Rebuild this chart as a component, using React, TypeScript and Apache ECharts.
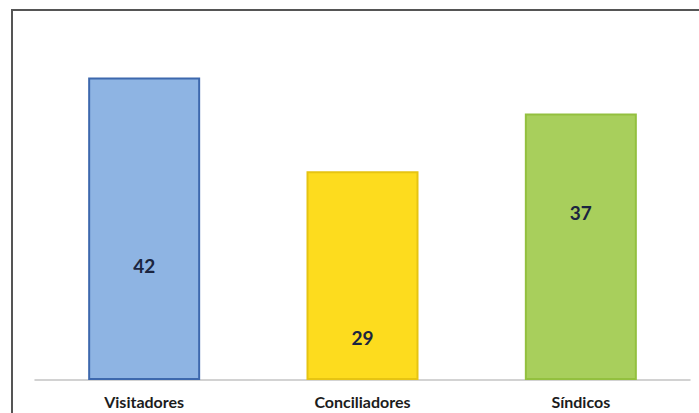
import React, { useEffect, useRef } from "react";
import * as echarts from "echarts";

const categories = ["Visitadores", "Conciliadores", "Síndicos"];
const values = [42, 29, 37];

const fills = ["#8eb4e3", "#fddc1e", "#a8cf5c"];
const borders = ["#3d68ad", "#e6c412", "#93c03f"];
const labelTops = [188, 166, 99];

export default function App() {
  const ref = useRef<HTMLDivElement>(null);
  useEffect(() => {
    if (!ref.current) return;
    const chart = echarts.init(ref.current, undefined, { renderer: "svg" });
    chart.setOption({
      animation: false,
      backgroundColor: "#ffffff",
      grid: { left: 35, right: 9, top: 20, bottom: 33 },
      xAxis: {
        type: "category",
        data: categories,
        axisLine: { show: true, lineStyle: { color: "#c4c4c4", width: 1.5 } },
        axisTick: { show: false },
        axisLabel: {
          margin: 13,
          fontFamily: "Lato",
          fontWeight: "bold",
          fontSize: 16,
          color: "#1c1c1c",
        },
      },
      yAxis: {
        type: "value",
        min: 0,
        max: 50,
        show: false,
        splitLine: { show: false },
      },
      graphic: [
        {
          type: "rect",
          shape: { x: 12, y: 10, width: 720, height: 440 },
          style: { fill: "none", stroke: "#555555", lineWidth: 2 },
          z: 100,
        },
      ],
      series: [
        {
          type: "bar",
          barWidth: 112,
          data: values.map((v, i) => ({
            value: v,
            itemStyle: { color: fills[i], borderColor: borders[i], borderWidth: 2 },
            label: {
              show: true,
              position: ["50%", labelTops[i]],
              align: "center",
              verticalAlign: "middle",
              fontFamily: "Lato",
              fontWeight: "bold",
              fontSize: 19,
              color: "#1b2540",
            },
          })),
        },
      ],
    });
    return () => chart.dispose();
  }, []);
  return <div ref={ref} style={{ width: 699, height: 413, position: "absolute", left: 0, top: 0 }} />;
}
